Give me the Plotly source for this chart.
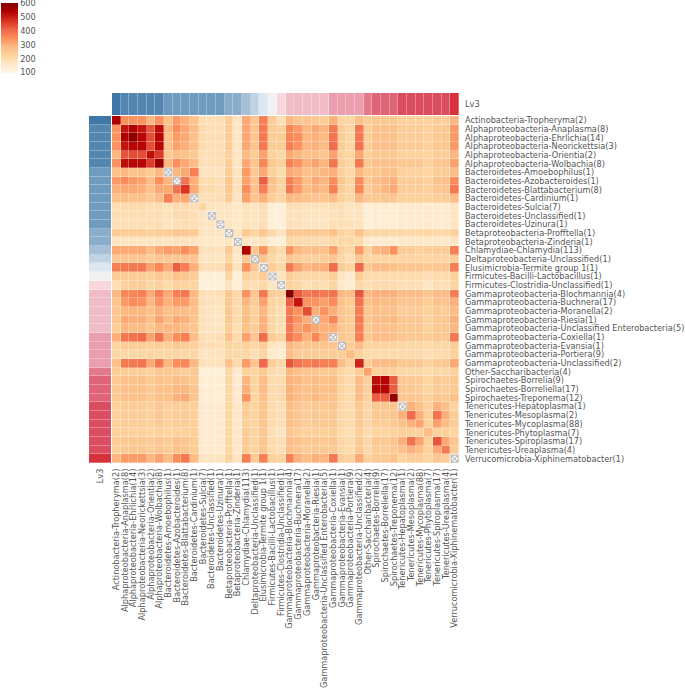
import plotly.graph_objects as go

W, H = 685, 688

lv3_labels = [
    "Actinobacteria-Tropheryma(2)", "Alphaproteobacteria-Anaplasma(8)", "Alphaproteobacteria-Ehrlichia(14)",
    "Alphaproteobacteria-Neorickettsia(3)", "Alphaproteobacteria-Orientia(2)", "Alphaproteobacteria-Wolbachia(8)",
    "Bacteroidetes-Amoebophilus(1)", "Bacteroidetes-Azobacteroides(1)", "Bacteroidetes-Blattabacterium(8)",
    "Bacteroidetes-Cardinium(1)", "Bacteroidetes-Sulcia(7)", "Bacteroidetes-Unclassified(1)",
    "Bacteroidetes-Uzinura(1)", "Betaproteobacteria-Profftella(1)", "Betaproteobacteria-Zinderia(1)",
    "Chlamydiae-Chlamydia(113)", "Deltaproteobacteria-Unclassified(1)", "Elusimicrobia-Termite group 1(1)",
    "Firmicutes-Bacilli-Lactobacillus(1)", "Firmicutes-Clostridia-Unclassified(1)",
    "Gammaproteobacteria-Blochmannia(4)", "Gammaproteobacteria-Buchnera(17)", "Gammaproteobacteria-Moranella(2)",
    "Gammaproteobacteria-Riesia(1)", "Gammaproteobacteria-Unclassified Enterobacteria(5)",
    "Gammaproteobacteria-Coxiella(1)", "Gammaproteobacteria-Evansia(1)", "Gammaproteobacteria-Portiera(9)",
    "Gammaproteobacteria-Unclassified(2)", "Other-Saccharibacteria(4)", "Spirochaetes-Borrelia(9)",
    "Spirochaetes-Borreliella(17)", "Spirochaetes-Treponema(12)", "Tenericutes-Hepatoplasma(1)",
    "Tenericutes-Mesoplasma(2)", "Tenericutes-Mycoplasma(88)", "Tenericutes-Phytoplasma(7)",
    "Tenericutes-Spiroplasma(17)", "Tenericutes-Ureaplasma(4)", "Verrucomicrobia-Xiphinematobacter(1)",
]

# Upper triangle of the symmetric matrix: each row starts at its diagonal cell.
# None marks a masked diagonal cell.
upper_rows = [
    [540,340,340,340,290,340,270,330,300,270, 190,190,190,240,170,310,250,370,240,190, 290,260,260,250,240,300,220,210,270,240, 250,250,250,230,230,230,230,240,230,290],
    [510,540,510,430,520,290,350,310,280, 200,190,190,240,170,310,260,380,240,230, 360,330,290,310,290,380,240,210,380,240, 270,270,270,240,240,240,230,250,250,330],
    [580,530,440,530,270,330,310,270, 200,190,190,240,170,310,260,380,240,240, 360,350,290,300,280,390,240,210,380,240, 270,270,270,240,240,240,230,250,250,330],
    [530,440,530,270,320,300,270, 200,190,190,240,170,310,260,380,240,240, 370,340,290,300,280,400,240,210,390,240, 270,270,270,240,240,240,230,250,250,330],
    [520,460,250,280,270,250, 190,190,190,230,170,280,240,320,230,210, 310,290,270,270,260,320,230,220,310,230, 250,250,250,230,230,230,220,240,240,290],
    [570,290,350,310,280, 190,190,190,240,170,310,260,360,250,230, 370,340,300,320,290,390,240,210,380,250, 270,270,270,250,250,250,230,260,260,320],
    [None,290,310,370, 180,180,170,240,170,330,250,310,230,200, 310,300,270,280,290,300,230,210,290,250, 260,270,270,230,230,230,220,240,240,280],
    [None,390,300, 200,200,190,260,180,320,260,420,270,230, 370,330,280,310,290,350,250,220,350,250, 280,290,300,240,240,240,230,270,270,350],
    [470,310, 200,200,190,250,180,350,270,370,260,220, 380,330,280,300,280,370,240,210,360,240, 270,290,310,240,240,240,230,260,260,380],
    [None, 190,190,190,240,170,320,260,300,240,220, 290,280,270,260,260,280,230,210,290,250, 250,260,260,230,230,230,230,240,240,280],
    [220,170,170,170,160,180,170,190,130,130, 190,190,180,180,180,190,190,170,180,130, 140,140,140,150,150,150,150,150,150,170],
    [None,170,170,160,180,170,190,130,130, 180,180,170,170,170,180,190,170,170,130, 140,140,140,150,150,150,150,150,150,170],
    [None,170,160,180,170,190,130,130, 190,180,170,170,170,190,190,180,180,130, 140,140,140,150,150,150,150,150,150,170],
    [None,170,250,220,260,210,170, 260,250,250,250,240,270,220,210,270,210, 210,210,210,210,210,210,210,210,210,230],
    [None,170,160,170,130,130, 210,200,200,200,190,200,210,210,200,150, 150,150,150,160,160,160,160,160,160,170],
    [540,250,340,230,200, 340,290,270,280,270,320,230,210,330,230, 290,300,340,240,240,230,240,240,240,370],
    [None,260,210,190, 260,240,230,230,240,260,210,190,260,220, 220,220,220,220,220,220,220,220,220,240],
    [None,240,210, 380,320,290,300,300,400,240,220,410,250, 280,280,270,260,260,260,250,260,260,370],
    [None,170, 240,220,210,210,210,240,170,150,240,200, 200,200,200,200,200,200,190,200,200,230],
    [None, 230,210,190,200,190,220,160,140,210,190, 200,200,200,190,190,190,170,190,190,220],
    [590,420,380,390,380,390,290,280,430,290, 300,300,300,280,280,280,260,280,280,370],
    [510,340,340,320,350,270,240,390,270, 290,280,280,260,260,260,240,270,260,300],
    [440,300,340,300,260,240,370,260, 270,270,270,240,240,240,230,250,240,280],
    [None,310,360,260,240,380,260, 280,280,290,250,250,250,230,250,250,300],
    [300,300,260,240,370,250, 270,270,270,250,250,250,230,250,250,290],
    [None,260,240,370,250, 280,280,270,260,250,250,240,260,250,380],
    [None,240,280,220, 220,220,220,210,210,210,200,210,210,240],
    [280,230,200, 200,200,200,200,200,200,190,200,200,230],
    [490,240, 280,280,280,250,250,250,230,250,250,310],
    [320, 230,230,230,210,210,210,200,210,210,230],
    [520,530,420,250,250,240,220,250,240,250],
    [530,420,250,250,240,220,250,240,250],
    [570,260,260,250,230,260,250,270],
    [None,300,270,230,300,270,220],
    [400,300,230,390,300,240],
    [320,230,320,280,240],
    [280,230,230,220],
    [430,310,260],
    [380,240],
    [None],
]

# Lv3 annotation level of each row/column, and the colour of each level
lv3_levels = [0, 1,1,1,1,1, 2,2,2,2,2,2,2, 3,3, 4, 5, 6, 7, 8, 9,9,9,9,9, 10,10,10,10, 11, 12,12,12, 13,13,13,13,13,13, 14]
level_colors = ["#3f78a8", "#5586b0", "#6f9bbf", "#8aaec9", "#a6bfd6", "#bfd3e2", "#dce7f1", "#f1f1f1",
                "#f8d6dc", "#efbcc7", "#eb9fae", "#e37a8c", "#df6478", "#da4d60", "#d73239"]

n = len(lv3_labels)
matrix = [[None] * n for _ in range(n)]
for i, row in enumerate(upper_rows):
    for k, v in enumerate(row):
        matrix[i][i + k] = v
        matrix[i + k][i] = v
masked = [lab for i, lab in enumerate(lv3_labels) if matrix[i][i] is None]

last = max(lv3_levels)
level_scale = [[i / last, c] for i, c in enumerate(level_colors)]


def xdom(a, b):
    return [a / W, b / W]


def ydom(top, bottom):
    return [1 - bottom / H, 1 - top / H]


FONT = dict(family="DejaVu Sans", size=8.2, color="#555555")
GAP = 0.3

fig = go.Figure()
fig.add_trace(go.Heatmap(
    z=matrix, x=lv3_labels, y=lv3_labels, colorscale="OrRd", zmin=97, zmax=600, xgap=GAP, ygap=GAP,
    hoverongaps=False, xaxis="x", yaxis="y",
    colorbar=dict(lenmode="pixels", len=70, thicknessmode="pixels", thickness=17, x=1 / W, xanchor="left",
                  y=1 - 3 / H, yanchor="top", xpad=0, ypad=0, outlinewidth=0, ticks="", tickvals=[100, 200, 300, 400, 500, 600],
                  tickfont=FONT, ticklabeloverflow="allow"),
))
fig.add_trace(go.Scatter(
    x=masked, y=masked, mode="markers", xaxis="x", yaxis="y", showlegend=False,
    marker=dict(symbol="square-x-open", size=7, color="#bdbdbd", line=dict(width=1.2, color="#bdbdbd")),
))
fig.add_trace(go.Heatmap(
    z=[lv3_levels], x=lv3_labels, y=["Lv3"], colorscale=level_scale, zmin=0, zmax=last, showscale=False,
    xgap=GAP, xaxis="x2", yaxis="y2",
))
fig.add_trace(go.Heatmap(
    z=[[v] for v in lv3_levels], x=["Lv3"], y=lv3_labels, colorscale=level_scale, zmin=0, zmax=last, showscale=False,
    ygap=GAP, xaxis="x3", yaxis="y3",
))

cat = dict(type="category", categoryorder="array", categoryarray=lv3_labels, showgrid=False, zeroline=False, showline=False,
           ticks="", tickfont=FONT, automargin=False)
xr = [-0.5, n - 0.5]
yr = [n - 0.5, -0.5]
fig.update_layout(
    width=W, height=H, margin=dict(l=0, r=0, t=0, b=0, autoexpand=False), paper_bgcolor="white", plot_bgcolor="white", showlegend=False,
    xaxis=dict(cat, domain=xdom(112, 459), range=xr, anchor="y", side="bottom", tickangle=-90, tickmode="array", tickvals=lv3_labels, ticktext=lv3_labels, ticklabelstandoff=3),
    yaxis=dict(cat, domain=ydom(116, 463), range=yr, anchor="x", side="right", tickmode="array", tickvals=lv3_labels, ticktext=lv3_labels, ticklabelstandoff=5),
    xaxis2=dict(cat, domain=xdom(112, 459), range=xr, anchor="y2", showticklabels=False),
    yaxis2=dict(domain=ydom(93, 115), anchor="x2", side="right", type="category", ticks="", tickfont=FONT, showgrid=False, zeroline=False, ticklabelstandoff=5),
    xaxis3=dict(domain=xdom(89, 111), anchor="y3", side="bottom", type="category", tickangle=-90, ticks="", tickfont=FONT, showgrid=False, zeroline=False, ticklabelstandoff=3),
    yaxis3=dict(cat, domain=ydom(116, 463), range=yr, anchor="x3", showticklabels=False),
)
fig.write_html("out.html", config=dict(displayModeBar=False), post_script="document.body.style.margin='0';")
